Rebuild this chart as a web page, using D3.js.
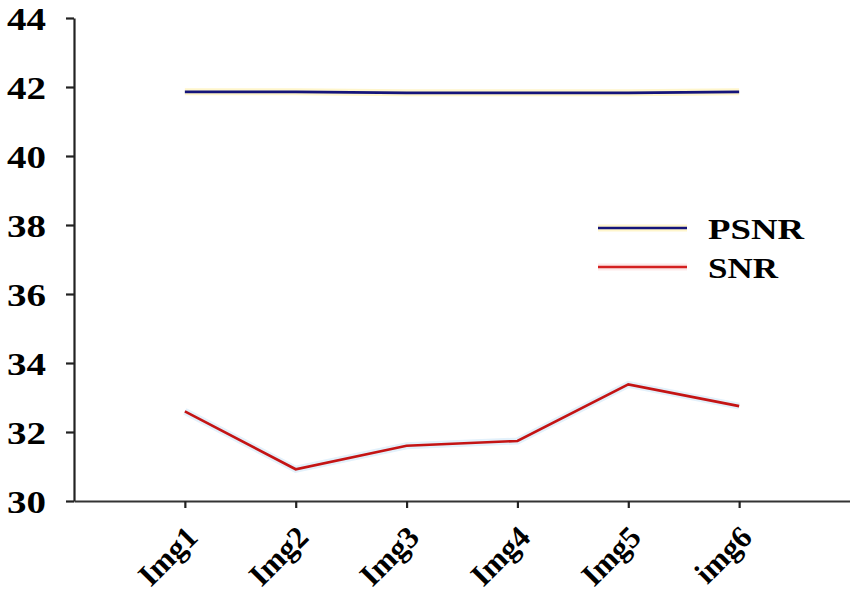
<!DOCTYPE html>
<html>
<head>
<meta charset="utf-8">
<script src="https://cdn.jsdelivr.net/npm/d3@7"></script>
<style>
  body { margin: 0; background: #fff; }
  text { font-family: "Liberation Serif", "Times New Roman", serif; font-weight: bold; fill: #000; }
</style>
</head>
<body>
<svg id="chart" width="850" height="597"></svg>
<script>
var categories = ["Img1", "Img2", "Img3", "Img4", "Img5", "img6"];
var psnr = [41.86, 41.86, 41.83, 41.83, 41.83, 41.86];
var snr = [32.6, 30.92, 31.6, 31.74, 33.38, 32.75];
var yTicks = [30, 32, 34, 36, 38, 40, 42, 44];

var svg = d3.select("#chart"),
    margin = { top: 18, right: 0, bottom: 96, left: 74 },
    width = 850 - margin.left - margin.right,
    height = 597 - margin.top - margin.bottom;

var x = d3.scalePoint()
    .domain(categories)
    .range([0, width])
    .padding(1);

var y = d3.scaleLinear()
    .domain([30, 44])
    .range([height, 0]);

var g = svg.append("g")
    .attr("transform", "translate(" + margin.left + "," + margin.top + ")");

// y axis
var yAxis = g.append("g")
    .call(d3.axisLeft(y).tickValues(yTicks).tickSize(8).tickSizeOuter(0).tickPadding(20));
yAxis.selectAll("path, line").attr("stroke", "#222").attr("stroke-width", 2.2);
yAxis.selectAll("text")
    .style("font-size", "32px")
    .attr("dy", "0.35em")
    .attr("textLength", 39)
    .attr("lengthAdjust", "spacingAndGlyphs");

// x axis
var xAxis = g.append("g")
    .attr("transform", "translate(0," + height + ")")
    .call(d3.axisBottom(x).tickSize(7).tickSizeOuter(0));
xAxis.select("path").attr("stroke", "#333").attr("stroke-width", 2.2);
xAxis.selectAll("line").attr("stroke", "#222").attr("stroke-width", 2.2);
xAxis.selectAll("text")
    .style("font-size", "31px")
    .attr("text-anchor", "end")
    .attr("y", 0)
    .attr("dy", 0)
    .attr("transform", "translate(14,38) rotate(-45)");

var line = d3.line()
    .x(function(d, i) { return x(categories[i]); })
    .y(function(d) { return y(d); });

// PSNR with pale halo
g.append("path")
    .datum(psnr)
    .attr("fill", "none")
    .attr("stroke", "#fff6cc")
    .attr("stroke-width", 7)
    .attr("d", line);
g.append("path")
    .datum(psnr)
    .attr("fill", "none")
    .attr("stroke", "#14147a")
    .attr("stroke-width", 2.6)
    .attr("d", line);

// SNR with faint blue halo
g.append("path")
    .datum(snr)
    .attr("fill", "none")
    .attr("stroke", "#e3f1fb")
    .attr("stroke-width", 7)
    .attr("d", line);
g.append("path")
    .datum(snr)
    .attr("fill", "none")
    .attr("stroke", "#c41414")
    .attr("stroke-width", 2.6)
    .attr("d", line);

// legend
var legend = [
    { name: "PSNR", color: "#14147a", halo: "#fff6cc", len: 96 },
    { name: "SNR", color: "#d42020", halo: "#fde9e9", len: 70 }
];
var lg = svg.append("g").attr("transform", "translate(598,228)");
var item = lg.selectAll("g").data(legend).enter().append("g")
    .attr("transform", function(d, i) { return "translate(0," + (i * 39) + ")"; });
item.append("line")
    .attr("x1", 0).attr("x2", 89)
    .attr("stroke", function(d) { return d.halo; })
    .attr("stroke-width", 7);
item.append("line")
    .attr("x1", 0).attr("x2", 89)
    .attr("stroke", function(d) { return d.color; })
    .attr("stroke-width", 2.6);
item.append("text")
    .attr("x", 110)
    .attr("dy", "0.35em")
    .style("font-size", "30px")
    .attr("textLength", function(d) { return d.len; })
    .attr("lengthAdjust", "spacingAndGlyphs")
    .text(function(d) { return d.name; });
</script>
</body>
</html>
